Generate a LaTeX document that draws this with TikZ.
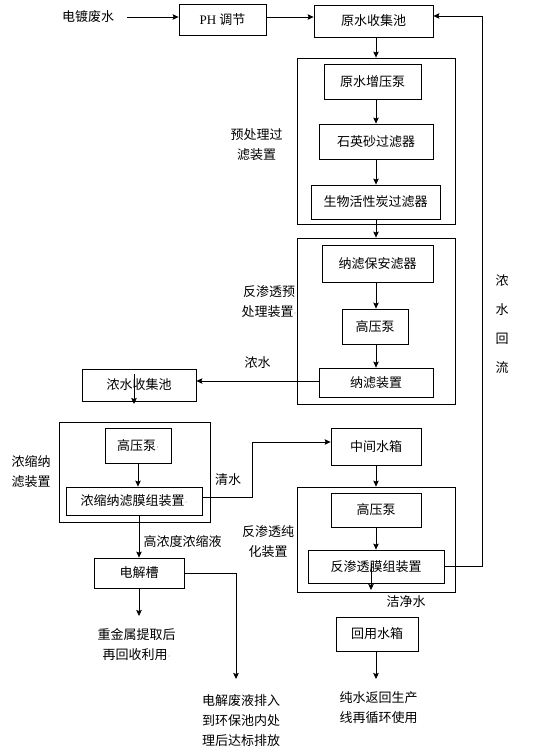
\documentclass[tikz,border=0pt]{standalone}
\usepackage{fontspec}
\setmainfont{Noto Sans CJK SC}
\newfontfamily\latinserif{Liberation Serif}
\usetikzlibrary{arrows.meta}
\newcommand\pdot{{\latinserif\fontsize{9}{9}\selectfont\color{gray}·}}
\tikzset{
  box/.style={draw, line width=0.8pt, inner sep=0pt, font=\fontsize{13}{20}\selectfont, align=center},
  frame/.style={draw, line width=0.8pt, inner sep=0pt},
  lbl/.style={inner sep=0pt, font=\fontsize{13}{20}\selectfont, align=center},
  arr/.style={line width=0.8pt, -{Stealth[length=6pt,width=5.5pt,inset=1pt]}},
  ln/.style={line width=0.8pt},
}
\begin{document}
\begin{tikzpicture}[x=1pt,y=-1pt]
\useasboundingbox (0,0) rectangle (555,751);
% helper coordinates
\coordinate (p17) at (0,17);
\coordinate (p16) at (0,16);
\coordinate (p381) at (0,381);
\coordinate (p497) at (0,497);
\coordinate (p442) at (0,442);
\coordinate (a1) at (127,17);
\coordinate (fb) at (482,16);
\coordinate (n1) at (134,374);
\coordinate (n2) at (134,404);
\coordinate (r1) at (371,563);
\coordinate (r2) at (371,590);
\coordinate (q1) at (252,442);
\coordinate (ej) at (236,679);
\coordinate (zs) at (139,616);
\coordinate (hs) at (376,679);

% top row
\node[lbl] (ddfs) at (88,17) {电镀废水};
\node[box, minimum width=87pt, minimum height=31pt] (ph) at (222.5,19.5) {{\latinserif PH }调节};
\node[box, minimum width=119pt, minimum height=32pt] (ys) at (373.5,21) {原水收集池};
\draw[arr] (a1) -- (ph.west |- a1);
\draw[arr] (ph.east |- a1) -- (ys.west |- a1);

% pretreatment filter unit
\node[frame, minimum width=158pt, minimum height=166pt] (o1) at (376,141) {};
\node[box, minimum width=97pt, minimum height=35pt] (b1) at (372.5,81.5) {原水增压泵};
\node[box, minimum width=114pt, minimum height=35pt] (b2) at (376,141.5) {石英砂过滤器};
\node[box, minimum width=129pt, minimum height=34pt] (b3) at (375.5,202) {生物活性炭过滤器};
\node[lbl] (l1) at (256.5,145) {预处理过\\滤装置};
\draw[arr] (o1.north |- ys.south) -- (o1.north);
\draw[arr] (b2.north |- b1.south) -- (b2.north);
\draw[arr] (b2.south) -- (b2.south |- b3.north);

% RO pretreatment unit
\node[frame, minimum width=158pt, minimum height=166pt] (o2) at (376,321) {};
\node[box, minimum width=111pt, minimum height=37pt] (c1) at (377.5,263.5) {纳滤保安滤器};
\node[box, minimum width=66pt, minimum height=35pt] (c2) at (375,326.5) {高压泵};
\node[box, minimum width=114pt, minimum height=29pt] (c3) at (376,382.5) {纳滤装置};
\node[lbl] (l2) at (269,302) {反渗透预\\处理装置\pdot};
\draw[arr] (o2.north |- b3.south) -- (o2.north);
\draw[arr] (o2.north |- c1.south) -- (o2.north |- c2.north);
\draw[arr] (o2.north |- c2.south) -- (o2.north |- c3.north);
\node[lbl] (nslbl) at (257.5,363) {浓水};

% concentrate collection
\node[box, minimum width=114pt, minimum height=32pt] (nsj) at (139,385) {浓水收集池};
\draw[arr] (c3.west |- p381) -- (nsj.east |- p381);
\draw[arr] (n1) -- (n2);

% concentrating NF unit
\node[frame, minimum width=151pt, minimum height=100pt] (o3) at (134.5,472) {};
\node[box, minimum width=66pt, minimum height=35pt] (d1) at (138,445.5) {高压泵\pdot};
\node[box, minimum width=136pt, minimum height=28pt] (d2) at (134,501) {浓缩纳滤膜组装置\pdot};
\node[lbl] (l3) at (31,471.5) {浓缩纳\\滤装置};
\draw[arr] (d1.south -| d1.south) -- (d1.south |- d2.north);
\node[lbl] (qslbl) at (228,480) {清水};

% intermediate tank and RO purification
\node[box, minimum width=90pt, minimum height=37pt] (zj) at (376,446.5) {中间水箱};
\draw[arr] (d2.east |- p497) -| (q1) -- (zj.west |- p442);
\node[frame, minimum width=158pt, minimum height=105pt] (o4) at (376,539.5) {};
\node[box, minimum width=90pt, minimum height=34pt] (e1) at (376,510) {高压泵};
\node[box, minimum width=136pt, minimum height=33pt] (e2) at (376,566.5) {反渗透膜组装置};
\node[lbl] (l4) at (268,542) {反渗透纯\\化装置};
\draw[arr] (zj.south) -- (o4.north);
\draw[arr] (e1.south) -- (e2.north);
\draw[arr] (r1) -- (r2);
\node[lbl] (jjs) at (406,602) {洁净水};
\draw[arr] (e2.east) -| (fb) -- (ys.east |- p16);

% recycle water tank
\node[box, minimum width=82pt, minimum height=34pt] (hy) at (377,634) {回用水箱};
\draw[arr] (hs |- hy.south) -- (hs);
\node[lbl] (cs) at (378.5,708) {纯水返回生产\\线再循环使用};

% electrolysis
\node[lbl] (gnd) at (182.5,542) {高浓度浓缩液};
\node[box, minimum width=90pt, minimum height=30pt] (dj) at (139,573) {电解槽};
\draw[arr] (dj.north |- d2.south) -- (dj.north);
\draw[arr] (dj.south) -- (zs);
\draw[arr] (dj.east) -| (ej);
\node[lbl] (zjs) at (136.5,644.5) {重金属提取后\\再回收利用\pdot};
\node[lbl] (djf) at (241,720.5) {电解废液排入\\到环保池内处\\理后达标排放};

% return flow label
\node[lbl, font=\fontsize{13}{29}\selectfont] (hl) at (502,324.5) {浓\\水\\回\\流};
\end{tikzpicture}
\end{document}
